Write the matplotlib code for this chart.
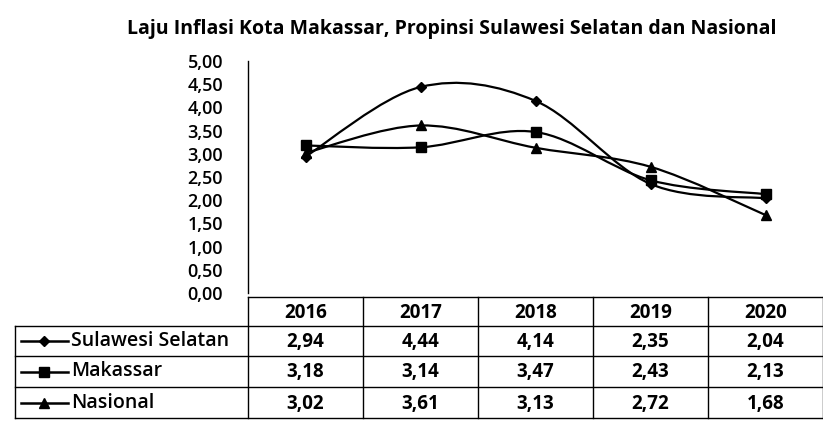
import matplotlib
matplotlib.use("Agg")
import matplotlib.pyplot as plt
from matplotlib.path import Path
from matplotlib.patches import PathPatch
import numpy as np

# ---------------- data ----------------
years = ["2016", "2017", "2018", "2019", "2020"]
series_names = ["Sulawesi Selatan", "Makassar", "Nasional"]
sulsel = [2.94, 4.44, 4.14, 2.35, 2.04]
makassar = [3.18, 3.14, 3.47, 2.43, 2.13]
nasional = [3.02, 3.61, 3.13, 2.72, 1.68]
y_ticks = [0.0, 0.5, 1.0, 1.5, 2.0, 2.5, 3.0, 3.5, 4.0, 4.5, 5.0]

series = [sulsel, makassar, nasional]
markers = ["D", "s", "^"]
msizes = [5.5, 7, 7.5]

FONT = "Open Sans"
W, H = 823, 424


def fmt(v):
    return f"{v:.2f}".replace(".", ",")


def smooth_path(xs, ys):
    # Excel-like smoothed line: Catmull-Rom style cubic Bezier segments
    pts = np.column_stack([xs, ys])
    n = len(pts)
    verts = [pts[0]]
    codes = [Path.MOVETO]
    for i in range(n - 1):
        p0 = pts[i - 1] if i > 0 else pts[i]
        p1 = pts[i]
        p2 = pts[i + 1]
        p3 = pts[i + 2] if i + 2 < n else pts[i + 1]
        c1 = p1 + (p2 - p0) / 6.0
        c2 = p2 - (p3 - p1) / 6.0
        verts += [c1, c2, p2]
        codes += [Path.CURVE4] * 3
    return Path(verts, codes)


fig = plt.figure(figsize=(W / 100, H / 100), dpi=100)

# ---------------- chart axes ----------------
x_left, x_right = 248, 823
y_top, y_bot = 61, 293
ax = fig.add_axes([x_left / W, 1 - y_bot / H, (x_right - x_left) / W, (y_bot - y_top) / H])
ax.set_xlim(0, len(years))
ax.set_ylim(0, 5)
xs = np.arange(len(years)) + 0.5
for vals, m, ms in zip(series, markers, msizes):
    ax.add_patch(PathPatch(smooth_path(xs, vals), facecolor="none",
                           edgecolor="black", linewidth=1.6, capstyle="round"))
    ax.plot(xs, vals, linestyle="none", marker=m, markersize=ms, color="black")

for s in ["top", "right", "bottom"]:
    ax.spines[s].set_visible(False)
ax.spines["left"].set_linewidth(1.0)
ax.set_xticks([])
ax.set_yticks(y_ticks)
ax.set_yticklabels([fmt(v) for v in y_ticks], fontsize=13, fontweight="semibold",
                   family=FONT)
ax.tick_params(axis="y", length=0, pad=18)

fig.text(452 / W, 1 - 29 / H,
         "Laju Inflasi Kota Makassar, Propinsi Sulawesi Selatan dan Nasional",
         ha="center", va="center", fontsize=14, fontweight="bold", family=FONT)

# ---------------- data table ----------------
tb = fig.add_axes([0, 0, 1, 1])
tb.set_xlim(0, W)
tb.set_ylim(H, 0)
tb.axis("off")

col_w = (x_right - x_left) / len(years)
label_left = 15
row_lines = [297, 326, 356, 387, 418]
lw = 1.0

# horizontal lines
tb.plot([x_left, x_right], [row_lines[0]] * 2, color="black", lw=lw)
for y in row_lines[1:]:
    tb.plot([label_left, x_right], [y, y], color="black", lw=lw)
# vertical lines
tb.plot([label_left, label_left], [row_lines[1], row_lines[-1]], color="black", lw=lw)
for j in range(len(years) + 1):
    xv = x_left + j * col_w
    tb.plot([xv, xv], [row_lines[0], row_lines[-1]], color="black", lw=lw)

# header
for j, yr in enumerate(years):
    tb.text(x_left + (j + 0.5) * col_w, (row_lines[0] + row_lines[1]) / 2 + 1, yr,
            ha="center", va="center", fontsize=13.5, fontweight="bold", family=FONT)

# rows
for i, (name, vals, m, ms) in enumerate(zip(series_names, series, markers, msizes)):
    yc = (row_lines[i + 1] + row_lines[i + 2]) / 2
    tb.plot([21, 68], [yc, yc], color="black", lw=1.8)
    tb.plot([44], [yc], marker=m, markersize=ms - 0.5, color="black")
    tb.text(71, yc, name, ha="left", va="center", fontsize=14, fontweight="semibold",
            family=FONT)
    for j, v in enumerate(vals):
        tb.text(x_left + (j + 0.5) * col_w, yc + 1, fmt(v), ha="center", va="center",
                fontsize=13.5, fontweight="bold", family=FONT)

fig.savefig("out.png", dpi=100)
